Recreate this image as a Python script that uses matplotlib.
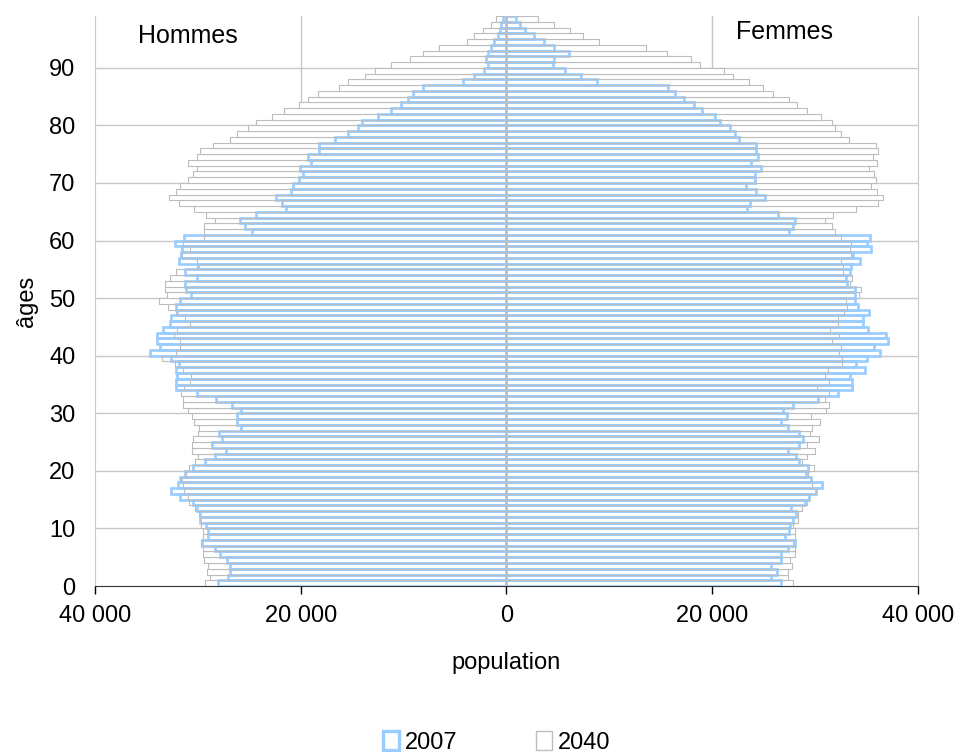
import matplotlib
matplotlib.use("Agg")
import matplotlib.pyplot as plt
from matplotlib.patches import Patch
from matplotlib.ticker import FuncFormatter
import numpy as np

plt.rcParams['font.family'] = ['Liberation Sans', 'DejaVu Sans']

ages = np.arange(99)

# population per single year of age
men_2007 = [28000, 27100, 26900, 26900, 27200, 27800, 28300, 29600, 29000, 29000,
            29200, 29800, 29800, 30100, 30500, 31700, 32600, 31900, 31700, 31200,
            30500, 29300, 28300, 27300, 28600, 27600, 27900, 25800, 26200, 26200,
            25800, 26700, 28200, 30100, 32100, 32100, 32000, 32100, 31800, 32600,
            34600, 33700, 34000, 34000, 33400, 32700, 32600, 32000, 32100, 31700,
            30700, 31100, 31200, 30100, 31200, 30000, 31800, 31600, 31500, 32200,
            31300, 24700, 25400, 25900, 24300, 21400, 21800, 22400, 20900, 20700,
            20200, 19800, 20100, 19000, 19300, 18200, 18200, 16700, 15400, 14400,
            14000, 12500, 11200, 10200, 9600, 9100, 8100, 4200, 3100, 2200,
            1800, 2000, 1800, 1500, 1200, 800, 600, 500, 300]

men_2040 = [29300, 28800, 29100, 29000, 29400, 29500, 29500, 29700, 29500, 29500,
            29700, 29800, 29900, 30300, 30900, 31000, 31300, 31400, 31500, 31100,
            30900, 30300, 30000, 30600, 30600, 30500, 30000, 29900, 30400, 30600,
            31000, 31400, 31400, 31600, 31300, 30800, 30700, 31400, 32200, 33500,
            32100, 31700, 31700, 32300, 32000, 30800, 31200, 32100, 32900, 33800,
            33000, 33200, 33200, 32700, 32100, 30100, 30100, 31500, 30800, 31400,
            29400, 29400, 29400, 28300, 29200, 30400, 31800, 32800, 32100, 31700,
            31000, 30500, 30100, 31000, 30100, 29800, 28500, 26900, 26200, 25100,
            24300, 22800, 21600, 20200, 19300, 18300, 16300, 15400, 13700, 12800,
            11200, 9400, 8100, 6500, 3800, 3100, 2300, 1500, 1000]

women_2007 = [26700, 25700, 26300, 25700, 26700, 26700, 27400, 28100, 27100, 27500,
              27600, 27900, 28200, 27700, 29000, 29400, 30100, 30700, 29600, 29100,
              29300, 28500, 28200, 27400, 28500, 28800, 28500, 27400, 26700, 27300,
              26900, 27900, 30300, 32200, 33600, 33600, 33400, 34900, 34000, 35100,
              36300, 35700, 37100, 36900, 35200, 34700, 34700, 35300, 34200, 33900,
              33900, 33900, 33100, 33000, 33400, 33500, 34400, 33700, 35500, 35100,
              35400, 27500, 27900, 28100, 26400, 23400, 23700, 25100, 24300, 23300,
              24200, 24200, 24800, 23800, 24500, 24300, 24300, 22600, 22200, 21700,
              20800, 20300, 19000, 18200, 17300, 16400, 15700, 8800, 7300, 5700,
              4500, 4600, 6100, 4600, 3700, 2700, 1800, 1300, 900]

women_2040 = [27900, 27400, 27400, 27800, 27600, 28100, 28100, 27900, 28100, 28100,
              27900, 28400, 28400, 28700, 29200, 29400, 30100, 29700, 29600, 29300,
              29900, 28700, 29200, 30000, 29200, 30400, 29500, 29700, 30500, 29600,
              31100, 31400, 31000, 31400, 30200, 31400, 31000, 31300, 32600, 32600,
              32300, 32500, 31700, 32300, 31500, 32200, 32200, 32800, 33100, 33000,
              34300, 34500, 33400, 33600, 32700, 32700, 32500, 33500, 33400, 33500,
              32500, 32000, 31700, 31000, 31800, 34000, 36100, 36600, 36000, 35500,
              35900, 35700, 35300, 36000, 35600, 36100, 35900, 33300, 32500, 32000,
              31700, 30600, 29200, 28300, 27500, 25900, 25000, 23600, 22000, 21200,
              18800, 18000, 15600, 13600, 9000, 7500, 6200, 4600, 3100]

blue = '#99CCFF'
grey = '#BDBDBD'
grid = '#C8C8C8'

fig = plt.figure(figsize=(9.59, 7.52), dpi=100)
ax = fig.add_axes([0.099, 0.2207, 0.858, 0.758])

m07 = -np.array(men_2007)
m40 = -np.array(men_2040)

# 2040 : white bars with grey border (hide the grid)
ax.barh(ages, m40, height=1, align='edge', color='white', edgecolor=grey, lw=0.8, zorder=2)
ax.barh(ages, women_2040, height=1, align='edge', color='white', edgecolor=grey, lw=0.8, zorder=2)
# 2007 : light blue outlines
ax.barh(ages, m07, height=1, align='edge', fill=False, edgecolor=blue, lw=1.9, zorder=3)
ax.barh(ages, women_2007, height=1, align='edge', fill=False, edgecolor=blue, lw=1.9, zorder=3)
# grey outlines again on top, as in the original
ax.barh(ages, m40, height=1, align='edge', fill=False, edgecolor=grey, lw=0.6, zorder=4)
ax.barh(ages, women_2040, height=1, align='edge', fill=False, edgecolor=grey, lw=0.6, zorder=4)

ax.set_xlim(-40000, 40000)
ax.set_ylim(0, 99)
ax.set_xticks([-40000, -20000, 0, 20000, 40000])
ax.xaxis.set_major_formatter(FuncFormatter(lambda v, p: f"{abs(int(v)):,}".replace(",", " ")))
ax.set_yticks(range(0, 100, 10))

ax.tick_params(axis='x', direction='out', length=6, width=1, labelsize=17, pad=8)
ax.tick_params(axis='y', length=0, labelsize=17, pad=14)

for v in [10, 20, 30, 40, 50, 60, 70, 80, 90]:
    ax.axhline(v, color=grid, lw=1, zorder=1)
for v in [-20000, 20000]:
    ax.axvline(v, color=grid, lw=1, zorder=1)

ax.spines['top'].set_visible(False)
ax.spines['left'].set_color(grid)
ax.spines['right'].set_color(grid)
ax.spines['bottom'].set_color('#333333')

ax.set_xlabel("population", fontsize=17, labelpad=18)
ax.set_ylabel("âges", fontsize=17, labelpad=8)

ax.text(0.113, 0.965, "Hommes", transform=ax.transAxes, ha='center', va='center', fontsize=18)
ax.text(0.838, 0.972, "Femmes", transform=ax.transAxes, ha='center', va='center', fontsize=18)

handles = [Patch(facecolor='white', edgecolor=blue, lw=2.4, label='2007'),
           Patch(facecolor='white', edgecolor=grey, lw=1.0, label='2040')]
fig.legend(handles=handles, loc='center', bbox_to_anchor=(0.518, 0.013), ncol=2,
           frameon=False, fontsize=17, handlelength=0.7, handleheight=0.9,
           handletextpad=0.25, columnspacing=3.3)

fig.savefig("out.png", dpi=100)
